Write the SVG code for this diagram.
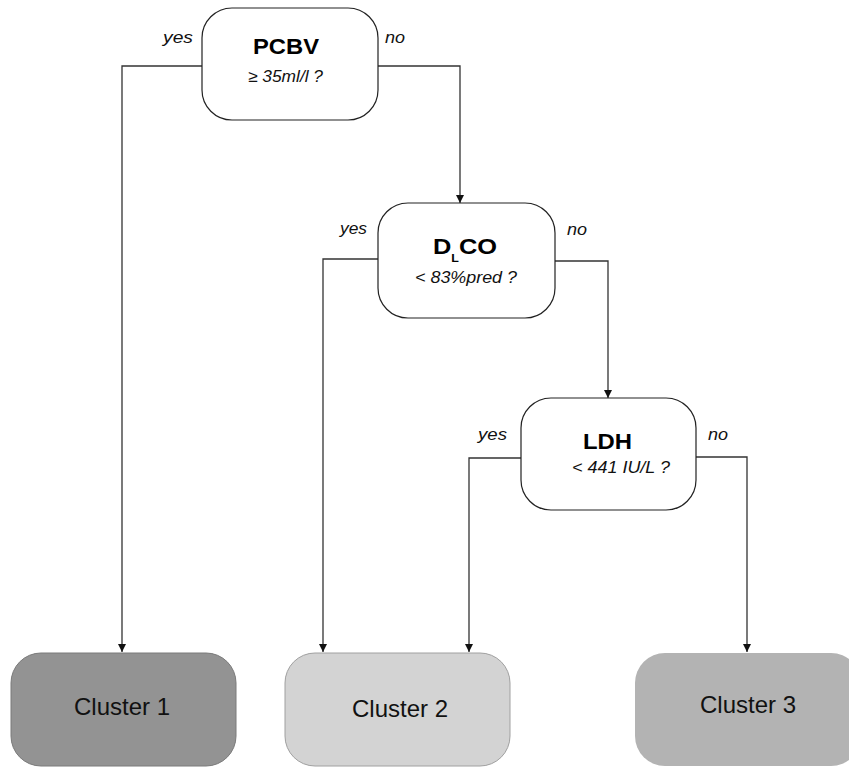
<svg xmlns="http://www.w3.org/2000/svg" width="849" height="767" viewBox="0 0 849 767">
<defs>
<style>
.dec{fill:#ffffff;stroke:#222;stroke-width:1.2}
.title{font-family:"Liberation Sans",Arial,sans-serif;font-weight:bold;font-size:22.5px;fill:#000}
.sub{font-family:"Liberation Sans",Arial,sans-serif;font-style:italic;font-size:16.5px;fill:#111}
.lbl{font-family:"Liberation Sans",Arial,sans-serif;font-style:italic;font-size:16px;fill:#111}
.cl{font-family:"Liberation Sans",Arial,sans-serif;font-size:24px;fill:#111;text-anchor:middle}
.conn{fill:none;stroke:#333;stroke-width:1.3}
</style>
<marker id="arr" viewBox="0 0 10 10" refX="10" refY="5" markerWidth="8" markerHeight="8" markerUnits="userSpaceOnUse" orient="auto">
<path d="M0,0 L10,5 L0,10 Z" fill="#111"/>
</marker>
</defs>
<rect width="849" height="767" fill="#ffffff"/>

<g id="connectors">
<path class="conn" d="M202,66 H122 V652" marker-end="url(#arr)"/>
<path class="conn" d="M378,66 H460 V203" marker-end="url(#arr)"/>
<path class="conn" d="M378,259 H323 V652" marker-end="url(#arr)"/>
<path class="conn" d="M555,261 H608 V398" marker-end="url(#arr)"/>
<path class="conn" d="M521,458 H469 V652" marker-end="url(#arr)"/>
<path class="conn" d="M696,457 H747 V652" marker-end="url(#arr)"/>
</g>

<g id="labels">
<text class="lbl" x="163" y="43" textLength="30" lengthAdjust="spacingAndGlyphs">yes</text>
<text class="lbl" x="385" y="43" textLength="20" lengthAdjust="spacingAndGlyphs">no</text>
<text class="lbl" x="340" y="234" textLength="27" lengthAdjust="spacingAndGlyphs">yes</text>
<text class="lbl" x="567" y="235" textLength="20" lengthAdjust="spacingAndGlyphs">no</text>
<text class="lbl" x="478" y="440" textLength="29" lengthAdjust="spacingAndGlyphs">yes</text>
<text class="lbl" x="708" y="440" textLength="20" lengthAdjust="spacingAndGlyphs">no</text>
</g>

<g id="pcbv">
<rect class="dec" x="202" y="8" width="176" height="112" rx="30" ry="30"/>
<text class="title" x="253" y="54" textLength="66" lengthAdjust="spacingAndGlyphs">PCBV</text>
<text class="sub" x="248" y="82" textLength="75" lengthAdjust="spacingAndGlyphs">≥ 35ml/l ?</text>
</g>

<g id="dlco">
<rect class="dec" x="378" y="203" width="177" height="115" rx="30" ry="30"/>
<text class="title" x="433" y="254" textLength="64" lengthAdjust="spacingAndGlyphs">D<tspan font-size="11" dy="8">L</tspan><tspan dy="-8">CO</tspan></text>
<text class="sub" x="415" y="283" textLength="102" lengthAdjust="spacingAndGlyphs">&lt; 83%pred ?</text>
</g>

<g id="ldh">
<rect class="dec" x="521" y="398" width="175" height="112" rx="30" ry="30"/>
<text class="title" x="583" y="449" textLength="49" lengthAdjust="spacingAndGlyphs">LDH</text>
<text class="sub" x="572" y="473" textLength="98" lengthAdjust="spacingAndGlyphs">&lt; 441 IU/L ?</text>
</g>

<g id="cluster1">
<rect x="11" y="653" width="225" height="113" rx="30" ry="30" fill="#939393" stroke="#7a7a7a" stroke-width="1"/>
<text class="cl" x="122" y="715">Cluster 1</text>
</g>

<g id="cluster2">
<rect x="285" y="653" width="225" height="113" rx="30" ry="30" fill="#d3d3d3" stroke="#a0a0a0" stroke-width="1"/>
<text class="cl" x="400" y="717">Cluster 2</text>
</g>

<g id="cluster3">
<rect x="635" y="653" width="226" height="113" rx="30" ry="30" fill="#b3b3b3"/>
<text class="cl" x="748" y="713">Cluster 3</text>
</g>
</svg>
